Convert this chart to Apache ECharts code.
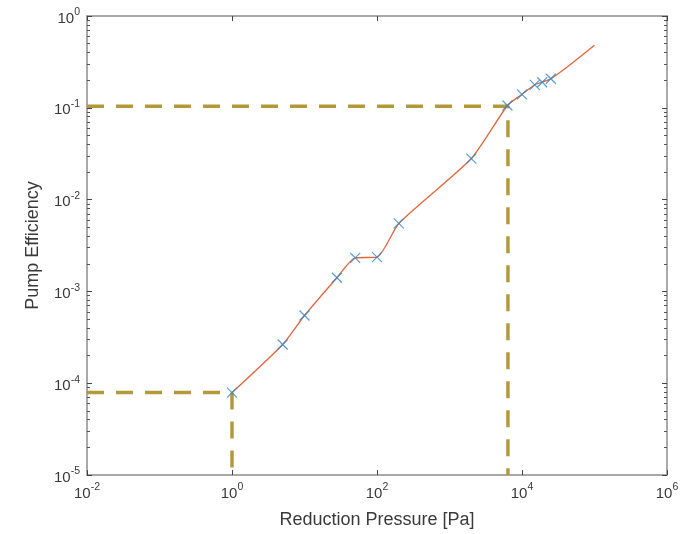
<!DOCTYPE html>
<html>
<head>
<meta charset="utf-8">
<script src="https://cdn.jsdelivr.net/npm/echarts@6/dist/echarts.min.js"></script>
<style>html,body{margin:0;padding:0;background:#fff}#c{width:683px;height:534px}</style>
</head>
<body>
<div id="c"></div>
<script>
// Measured points (markers)
const pressure = [1, 5, 10, 28, 50, 100, 200, 2000, 6300, 10000, 15000, 19000, 25000];
const efficiency = [7.9e-5, 2.64e-4, 5.46e-4, 1.41e-3, 2.32e-3, 2.36e-3, 5.5e-3, 0.028, 0.106, 0.14, 0.178, 0.19, 0.207];
// Fitted curve (through markers and beyond)
const fitPressure = [1, 5, 10, 28, 50, 100, 200, 2000, 6300, 10000, 15000, 19000, 25000, 50000, 100000];
const fitEfficiency = [7.9e-5, 2.64e-4, 5.46e-4, 1.41e-3, 2.32e-3, 2.36e-3, 5.5e-3, 0.028, 0.106, 0.14, 0.178, 0.19, 0.207, 0.31, 0.48];
// Guide (dashed) lines
const guideLow = [[0.01, 7.9e-5], [1, 7.9e-5], [1, 1e-5]];
const guideHigh = [[0.01, 0.104], [6400, 0.104], [6400, 1e-5]];
// Tick values
const xMajorTicks = [0.01, 1, 100, 1e4, 1e6];
const yMinorTicks = [];
for (let e = -5; e < 0; e++) { for (let m = 2; m <= 9; m++) yMinorTicks.push(m * Math.pow(10, e)); }

const axisColor = '#8c8c8c';
const labelColor = '#3a3a3a';
const font = 'Liberation Sans, Arial, Helvetica, sans-serif';
const rich = {
  b: { fontSize: 15, fontFamily: font, color: labelColor, lineHeight: 20, verticalAlign: 'bottom' },
  s: { fontSize: 10.5, fontFamily: font, color: labelColor, lineHeight: 20, verticalAlign: 'bottom', padding: [0, 0, 8, 0] }
};
function fmt(v) { const e = Math.round(Math.log10(v)); return '{b|10}{s|' + e + '}'; }

const chart = echarts.init(document.getElementById('c'), null, { renderer: 'canvas' });
const baseX = { type: 'log', logBase: 10, min: 0.01, max: 1e6, splitLine: { show: false } };
const baseY = { type: 'log', logBase: 10, min: 1e-5, max: 1, splitLine: { show: false } };
chart.setOption({
  animation: false,
  backgroundColor: '#fff',
  grid: { left: 87, right: 16, top: 16, bottom: 58, containLabel: false },
  xAxis: [
    Object.assign({}, baseX, {
      position: 'bottom',
      name: 'Reduction Pressure [Pa]', nameLocation: 'middle', nameGap: 36,
      nameTextStyle: { fontSize: 18, fontFamily: font, color: labelColor },
      axisLine: { show: true, onZero: false, lineStyle: { color: axisColor, width: 1.5 } },
      axisTick: { show: true, inside: true, length: 5, lineStyle: { color: '#444' }, customValues: xMajorTicks },
      axisLabel: { show: true, margin: 6, formatter: fmt, rich: rich, customValues: xMajorTicks }
    }),
    Object.assign({}, baseX, {
      position: 'top',
      axisLine: { show: true, onZero: false, lineStyle: { color: axisColor, width: 1.5 } },
      axisTick: { show: true, inside: true, length: 5, lineStyle: { color: '#444' }, customValues: xMajorTicks },
      axisLabel: { show: false }
    })
  ],
  yAxis: [
    Object.assign({}, baseY, {
      position: 'left', interval: 1,
      name: 'Pump Efficiency', nameLocation: 'middle', nameGap: 45,
      nameTextStyle: { fontSize: 18, fontFamily: font, color: labelColor },
      axisLine: { show: true, onZero: false, lineStyle: { color: axisColor, width: 1.5 } },
      axisTick: { show: true, inside: true, length: 5, lineStyle: { color: '#444' } },
      axisLabel: { show: true, margin: 7, formatter: fmt, rich: rich }
    }),
    Object.assign({}, baseY, {
      position: 'left',
      axisLine: { show: false },
      axisTick: { show: true, inside: true, length: 3, lineStyle: { color: '#555' }, customValues: yMinorTicks },
      axisLabel: { show: false }
    }),
    Object.assign({}, baseY, {
      position: 'right', interval: 1,
      axisLine: { show: true, onZero: false, lineStyle: { color: axisColor, width: 1.5 } },
      axisTick: { show: true, inside: true, length: 5, lineStyle: { color: '#444' } },
      axisLabel: { show: false }
    }),
    Object.assign({}, baseY, {
      position: 'right',
      axisLine: { show: false },
      axisTick: { show: true, inside: true, length: 3, lineStyle: { color: '#555' }, customValues: yMinorTicks },
      axisLabel: { show: false }
    })
  ],
  series: [
    {
      type: 'line', xAxisIndex: 0, yAxisIndex: 0,
      data: guideLow, showSymbol: false, symbol: 'none', z: 1,
      lineStyle: { color: '#B4993A', width: 3.5, type: [17, 12] }
    },
    {
      type: 'line', xAxisIndex: 0, yAxisIndex: 0,
      data: guideHigh, showSymbol: false, symbol: 'none', z: 1,
      lineStyle: { color: '#B4993A', width: 3.5, type: [17, 12] }
    },
    {
      type: 'line', xAxisIndex: 0, yAxisIndex: 0, smooth: 0.2,
      data: fitPressure.map((p, i) => [p, fitEfficiency[i]]),
      showSymbol: false, symbol: 'none', z: 2,
      lineStyle: { color: '#E2663A', width: 1.3 }
    },
    {
      type: 'scatter', xAxisIndex: 0, yAxisIndex: 0, z: 3,
      data: pressure.map((p, i) => [p, efficiency[i]]),
      symbol: 'path://M0,0L10,10M10,0L0,10', symbolSize: 10,
      itemStyle: { color: 'rgba(0,0,0,0)', borderColor: '#2E86C8', borderWidth: 1.2 }
    }
  ]
});
</script>
</body>
</html>
